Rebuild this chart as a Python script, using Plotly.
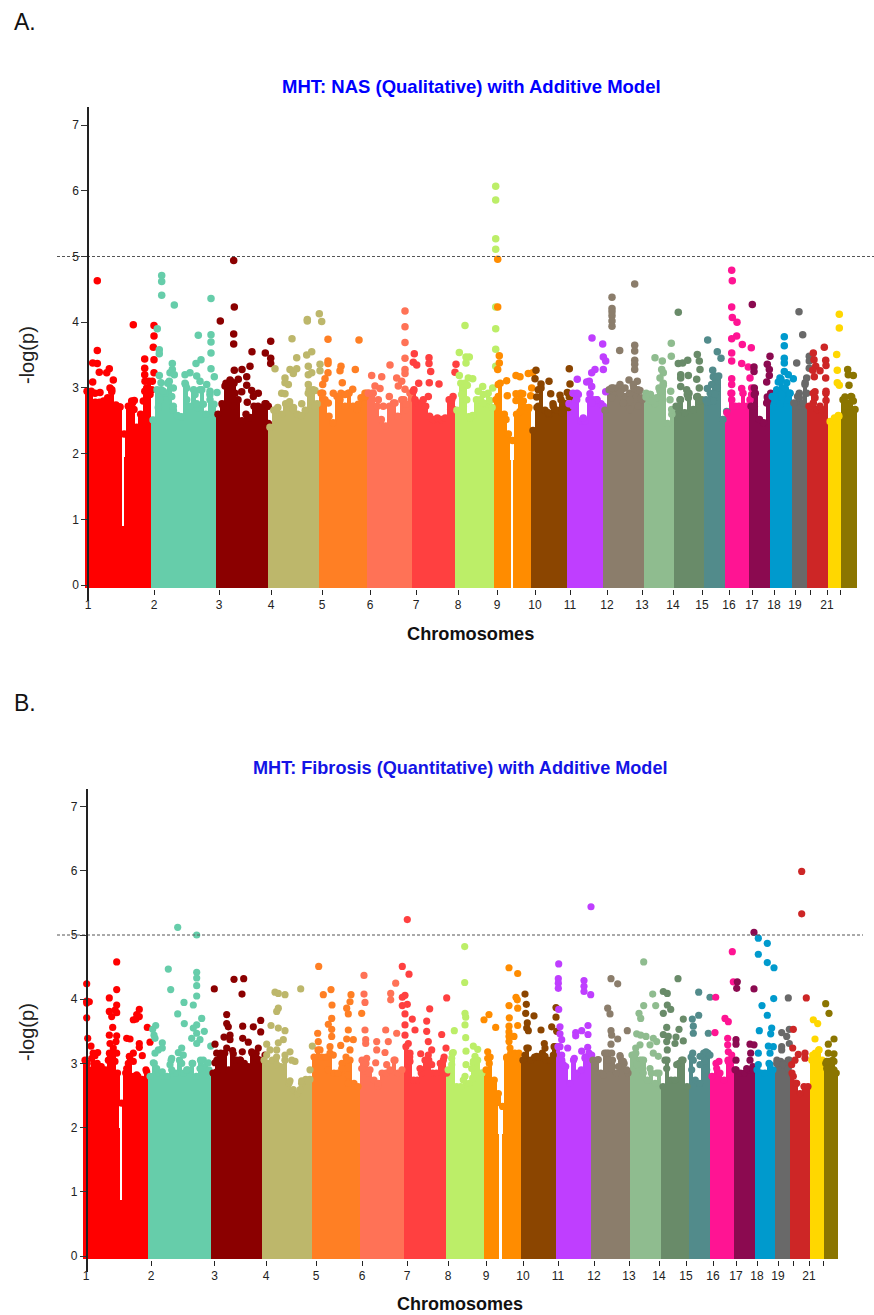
import plotly.graph_objects as go

chrom_colors = ["#FF0000","#66CDAA","#8B0000","#BDB76B","#FF7F24","#FF7256","#FF4040","#BCEE68","#FF8C00","#8B4500","#BF3EFF",
                "#8B7D6B","#8FBC8F","#698B69","#528B8B","#FF1493","#8B0A50","#009ACD","#696969","#CD2626","#FFD700","#8B7500"]
tick_text = ["1","2","3","4","5","6","7","8","9","10","11","12","13","14","15","16","17","18","19","","21",""]
y_ticks = [0,1,2,3,4,5,6,7]
threshold = 5

# ---------- Panel A: genome positions ----------
a_bounds = [85,151,216,268,319,367,412,455,494,531,567,603,644,674,704,725,749,770,792,807,828,841,857]
a_ticks = [88,154,219,271,322,370,416,458,497,535,570,607,642,673,702,729,752,774,795,810,827,840]
# height of the connected mass of points along each chromosome
a_body = [
 [2.95,2.95,2.78,2.78,2.8,2.85,2.97,2.74,2.71,2.3,2.72,2.77,2.4,2.6,2.95,3.1],
 [2.51,2.97,2.97,2.92,3.1,2.66,2.58,2.56,3.05,2.72,2.97,2.7,2.97,2.6,2.9,2.75],
 [2.6,2.76,3.07,3.12,3.07,2.82,2.5,2.6,2.55,2.72,2.72,2.7,2.76],
 [2.4,2.66,2.7,2.6,2.76,2.79,2.7,2.6,2.58,2.66,2.97,2.97,2.76],
 [2.92,2.82,2.57,2.47,2.87,2.92,2.72,2.92,2.72,2.67,2.85,2.92],
 [2.92,2.92,2.72,2.52,2.42,2.72,2.77,2.57,2.82,2.67,2.92],
 [2.97,2.77,2.77,2.72,2.57,2.52,2.54,2.52,2.54,2.82,2.87],
 [2.66,3.07,3.07,2.56,2.58,2.82,2.82,2.76,2.92,2.7],
 [2.82,3.07,2.6,2.3,2.2,2.6,2.92,2.7,2.7],
 [2.35,2.7,3.0,2.66,2.6,2.76,2.66,2.82,2.76],
 [2.76,2.92,2.92,2.5,2.5,2.82,2.82,2.82,2.76],
 [2.66,2.97,3.0,3.0,2.97,2.87,2.92,3.0,2.97,2.82],
 [2.92,2.9,2.76,3.0,3.07,2.46,2.6],
 [2.72,2.82,2.62,2.92,2.67,2.87,2.82],
 [2.82,2.92,3.18,3.18,2.52],
 [2.62,2.92,2.72,2.72,2.92,2.72],
 [2.72,2.92,2.52,2.47,2.82],
 [2.87,2.92,3.13,2.97,2.92],
 [2.77,2.87,2.72,3.08],
 [2.72,2.92,2.67,2.67,2.92],
 [2.49,2.54,2.57],
 [2.82,2.77,2.87,2.67],
]
# narrow unfilled stretches: position, lower value, upper value, span
a_seams = [(123.5,0.9,2.3,1.2),(123.5,1.95,2.3,3),(511.5,-0.1,2.2,2),(511.5,1.9,2.2,4)]
a01 = [(97.3,4.63),(97.3,3.57),(92.7,3.38),(97.3,3.37),(99.3,3.24),(106.7,3.23),(109.3,3.29),(113.3,3.12),(92.7,3.09),(110,3.0),(89,2.86),(100,2.93),(111.7,2.94),(95,2.92),(119.3,2.71),(115,2.67),(89.3,2.49),(89.3,2.31),
       (133.3,3.96),(154,3.95),(154,3.79),(153.3,3.62),(154,3.43),(144.7,3.44),(154,3.23),(144.7,3.3),(144.7,3.2),(145,3.1),(152.3,3.1),(146.7,3.0),(151.7,2.97),(143.3,2.8),(131.7,2.8),(134.3,2.81),(134,2.67),(130,2.62),(150,2.9)]
a02 = [(161.7,4.71),(161.7,4.62),(161.7,4.41),(174.3,4.26),(211,4.36),(157.3,3.9),(198.3,3.8),(211,3.81),(211,3.7),(159.3,3.58),(159.3,3.52),(211,3.53),(201,3.43),(196,3.37),(172.3,3.37),(172.3,3.28),(211,3.29),(214.3,3.17),(159.3,3.19),(170,3.23),(174.3,3.2),(190,3.23),(185,3.2),(196.7,3.18),(200,3.1),(161,3.08),(167.7,3.07),(185,3.07),(206.7,3.05),(163.3,2.95),(173.3,3.0),(186.7,3.0),(200,2.97),(210,2.95),(217,2.93),(195,2.9),(171.7,2.87),(160,2.82),(186.7,2.82),(196.7,2.76),(203.3,2.75),(173.3,2.72),(158.3,2.7),(210,2.82)]
a03 = [(233.7,4.94),(234.3,4.23),(220.3,4.02),(233.7,3.82),(233.7,3.67),(270.7,3.71),(252,3.55),(265.3,3.53),(270.7,3.45),(270.7,3.37),(250,3.33),(234.3,3.27),(242,3.28),(246.7,3.17),(238.3,3.13),(231.7,3.09),(225,3.03),(246.7,3.04),(251.7,2.96),(241.7,2.94),(258.3,2.92),(235,2.92),(253.3,2.87),(247.3,2.78),(233.3,2.82),(265,2.76),(268.3,2.72),(233.3,2.72),(223.3,2.72),(256,2.7),(268.3,2.46)]
a04 = [(319.3,4.13),(321.7,4.01),(307.3,4.04),(307.3,4.02),(292,3.75),(311.7,3.55),(306.7,3.5),(296.7,3.46),(320,3.36),(308.3,3.33),(275,3.29),(290,3.28),(296.7,3.29),(320,3.26),(308.3,3.2),(293.3,3.22),(311.7,3.23),(285,3.15),(308.3,3.05),(288.3,3.05),(285,3.08),(315,2.96),(281.7,2.92),(285,2.91),(308.3,2.92),(321.7,2.92),(289.3,2.77),(301.7,2.76),(276.7,2.67),(315,2.72),(293.3,2.67)]
a05 = [(328,3.74),(359,3.73),(328,3.41),(328,3.37),(341,3.33),(340,3.26),(355.3,3.28),(328,3.23),(325,3.14),(342.3,3.08),(322.7,3.05),(352.7,2.98),(348.3,2.92),(333.3,2.92),(322.7,2.92),(366.7,2.92),(345,2.9),(340,2.82),(328.3,2.77),(365,2.86),(358.3,2.75)]
a06 = [(405,4.17),(405,3.93),(405,3.69),(390,3.35),(405,3.45),(405,3.28),(405,3.22),(381.7,3.17),(371.7,3.19),(396.7,3.15),(401.7,3.1),(375,3.03),(380,2.99),(398.3,3.03),(405,2.98),(368.3,2.92),(372.7,2.92),(389.3,2.87),(404,2.82),(395,2.77),(406,2.75),(383.3,2.72),(378.3,2.82)]
a07 = [(414.3,3.52),(413.3,3.39),(416.7,3.35),(429,3.46),(429,3.37),(430.7,3.25),(418.7,3.07),(429.3,3.08),(439,3.06),(413.3,2.95),(428.3,2.87),(423.3,2.82),(415,2.82),(450.7,2.82),(450.7,2.67),(456,3.36),(455,3.24),(451.7,2.82),(453.3,2.67)]
a08 = [(495.7,6.07),(495.7,5.86),(495.7,5.27),(495.7,5.11),(495.7,4.23),(495.7,3.9),(495.7,3.59),(495.7,3.33),(465,3.95),(459.3,3.54),(469.3,3.47),(466,3.47),(466,3.38),(459.3,3.19),(468.3,3.15),(472.7,3.14),(482.7,3.02),(492.7,3.0),(463.3,3.0),(467.3,3.04),(478.3,2.95),(483.3,2.9),(461.7,2.9),(466.7,2.82),(490,2.81),(483.3,2.77),(463.3,2.72),(470,2.54)]
a09 = [(497.7,4.96),(497.7,4.23),(499.3,3.49),(499.3,3.38),(497.7,3.28),(506.7,3.11),(498.3,3.05),(507.3,2.88),(498.3,2.87),(516,3.19),(520,3.17),(528.3,3.22),(532.7,3.23),(531.7,3.0),(516,2.91),(522.7,2.91),(516,2.81),(523.3,2.8),(530.7,2.88),(528.3,2.68),(520,2.64),(506,2.52)]
a10 = [(536,3.27),(569.3,3.29),(535,3.14),(549,3.1),(541,3.06),(570,3.06),(538.3,2.97),(550.7,2.91),(560,2.89),(567.3,2.93),(536.7,2.86),(569.3,2.86),(563.3,2.77),(553.3,2.72),(538.3,2.72),(548.3,2.62),(568.3,2.7),(561.7,2.62)]
a11 = [(592,3.76),(602.7,3.67),(577.3,3.13),(603.3,3.47),(605.7,3.41),(603.3,3.28),(595,3.28),(591.7,3.23),(589.3,3.1),(586.7,3.09),(591.7,3.02),(590,2.91),(578.3,2.9),(605.7,2.94),(576.7,2.82),(596.7,2.82),(591.7,2.77),(573.3,2.72),(603.3,2.72),(583.3,2.54)]
a12 = [(634.7,4.58),(612,4.38),(612,4.21),(612,4.16),(612,4.1),(612,4.02),(612,3.94),(634.7,3.65),(634.7,3.56),(619.7,3.57),(634.7,3.42),(634.7,3.36),(634.7,3.28),(629,3.12),(637.3,3.1),(620,3.05),(611.7,3.0),(625,3.0),(633.3,3.05),(640,2.96),(620,2.92),(611.7,2.85),(641,2.85),(630,2.82),(623.3,2.77),(638.3,2.72),(630,2.67)]
a13 = [(671.3,3.68),(655,3.46),(671.3,3.48),(662.3,3.41),(661.7,3.28),(663.3,3.23),(660,3.15),(663.3,3.04),(660,2.95),(670.7,2.95),(650,2.9),(656.7,2.85),(646,2.86),(670,2.82),(651.7,2.8),(671.7,2.67)]
a14 = [(678.3,4.15),(678.3,3.37),(682.7,3.38),(687.7,3.42),(697.3,3.51),(699.3,3.41),(700,3.28),(680.7,3.2),(688.3,3.19),(680.7,3.15),(696.7,3.13),(680.7,3.02),(699.3,3.0),(686.7,2.97),(687.3,2.9),(688.3,2.85),(696.7,2.86),(680,2.82),(699.3,2.8)]
a15 = [(707.7,3.73),(717.3,3.55),(721,3.45),(712.7,3.27),(713.3,3.17),(717.3,3.17),(711.7,3.05),(707.3,2.99),(717.3,3.0),(715,2.9),(713.3,2.8),(707.3,2.78),(726.7,2.64)]
a16 = [(731.7,4.79),(732.3,4.63),(731.7,4.23),(732.3,4.07),(737,4.0),(736.7,3.79),(731.7,3.75),(742.3,3.66),(751.3,3.61),(731.7,3.53),(731.7,3.41),(741.7,3.37),(748.3,3.32),(731.7,3.14),(750,3.15),(731.7,3.05),(741.7,2.99),(751.7,3.0),(731.7,2.92),(751.7,2.9),(731.7,2.82),(743.3,2.72),(750,2.82),(733.3,2.72)]
a17 = [(752.3,4.27),(754,3.32),(754,3.25),(770,3.48),(767.3,3.36),(769.3,3.28),(769.3,3.19),(766.7,3.09),(754.3,3.0),(754.3,2.9),(770.7,2.92),(767.3,2.86),(766.7,2.77),(754.3,2.72)]
a18 = [(784.3,3.78),(784.3,3.64),(784.3,3.45),(784.3,3.38),(784.3,3.25),(788.3,3.2),(780,3.15),(793.3,3.14),(786.7,3.08),(778.3,3.09),(776.7,2.97),(785,3.0),(790,2.92),(781.7,2.9),(775,2.82),(788.3,2.82),(780,2.75)]
a19 = [(799,4.16),(802.7,3.81),(796.7,3.38),(809.3,3.48),(809.3,3.41),(809.3,3.3),(806.7,3.15),(805,3.05),(799.3,2.92),(799.3,2.85),(806.7,2.92),(803.3,2.77)]
a20 = [(824.3,3.62),(813.3,3.53),(814,3.43),(825.7,3.42),(815.7,3.33),(826,3.34),(812.7,3.27),(820,3.26),(814.3,3.17),(825.7,3.15),(815,2.94),(826,2.95),(815,2.85),(826,2.81),(820,2.72),(813.3,2.77)]
a21 = [(839.3,4.12),(839.3,3.91),(836.7,3.51),(837.3,3.27),(837.3,3.08),(839.3,3.04),(838.3,2.58)]
a22 = [(847.7,3.28),(848.3,3.2),(853.3,3.19),(849,3.04),(845,2.86),(851.7,2.86),(853.3,2.8),(845,2.72),(850,2.62)]

# ---------- Panel B ----------
b_bounds = [83,148,211,262,312,360,404,446,484,521,556,591,630,661,689,710,734,755,775,790,810,824,838]
b_ticks = [86,151,214.5,266,316,362,407,448,486,523,558,594,629,659,686,713,736,757,778,793,809,823]
b_body = [
 [3.05,2.9,3.16,3.0,2.95,2.9,3.16,3.16,2.85,2.38,2.85,3.1,2.8,2.8,2.75,2.9],
 [2.8,3.0,2.85,2.8,2.8,3.05,2.85,3.05,2.85,2.9,3.0,2.8,3.05,2.95,2.9],
 [2.85,3.05,3.16,3.16,2.9,3.2,3.05,3.05,3.0,2.95,3.16,3.16,3.05],
 [3.05,3.0,3.05,3.1,2.95,3.05,2.69,2.59,2.53,2.69,2.75,2.75],
 [3.1,3.21,3.1,3.1,3.16,2.85,2.85,3.0,3.1,3.05,2.69,2.64],
 [3.05,3.0,2.9,2.74,2.64,2.85,2.85,2.9,3.05,2.85,2.9],
 [3.26,3.1,2.74,2.74,2.85,3.05,3.05,2.85,2.85,3.0,3.1],
 [2.9,3.16,2.64,2.64,2.8,2.69,3.0,3.05,2.85],
 [2.9,3.1,2.74,2.53,2.33,3.1,3.16,3.16,3.16],
 [3.05,3.24,3.05,3.1,3.1,3.16,3.05,3.05,3.26],
 [3.26,3.05,2.95,2.69,3.05,2.85,2.9,3.1,3.16],
 [3.05,3.05,2.85,3.16,3.16,3.05,2.85,3.1,3.0,2.85],
 [3.13,3.16,3.05,3.05,2.74,2.85,2.69,2.85],
 [2.64,3.05,2.74,2.74,3.0,3.05,2.64],
 [3.1,2.74,2.69,3.16,3.16],
 [2.8,3.0,2.85,2.74,3.05,3.05],
 [2.9,2.85,2.85,2.9,2.95],
 [2.9,2.85,2.85,3.0,2.9],
 [3.05,3.03,3.0,3.05],
 [2.85,2.69,2.53,2.64,2.64],
 [3.05,3.16,3.21,3.05],
 [3.0,3.03,3.05,2.85],
]
b_seams = [(120.7,0.87,2.38,1.2),(120.7,2.0,2.38,3),(500.5,-0.1,2.33,3.5),(500.5,1.9,2.33,5)]
b01 = [(86.7,4.24),(86.7,3.97),(89.3,3.96),(86.7,3.94),(86.7,3.71),(87.7,3.39),(91,3.27),(97.7,3.17),(95,3.12),(87.3,3.0),(91.7,3.08),(86.7,2.92),(116.7,4.58),(116.7,4.15),(109.3,4.02),(116.7,3.91),(109.3,3.81),(115,3.83),(111.7,3.73),(116.7,3.79),(112.7,3.56),(109.3,3.44),(116.7,3.43),(116,3.34),(110,3.31),(113.3,3.24),(116.7,3.16),(115,3.03),(108.3,3.05),(100,2.95),(95,2.87),(110,2.92),
       (139.3,3.84),(136.7,3.76),(139.3,3.73),(133.3,3.68),(136,3.69),(147.3,3.56),(126.7,3.39),(130,3.38),(139.3,3.31),(150,3.33),(139.3,3.25),(133.3,3.16),(142.3,3.12),(129.3,3.11),(128.3,3.0),(133.3,3.03),(146.7,2.87),(126.7,2.92),(136.7,2.82)]
b02 = [(177.7,5.12),(196.7,5.0),(168.3,4.47),(196.7,4.42),(196.7,4.33),(196.7,4.21),(170.7,4.15),(196.7,4.05),(184,3.95),(193.3,3.91),(177.7,3.77),(201.7,3.7),(184.3,3.62),(196.7,3.6),(155.7,3.59),(193.3,3.55),(204.3,3.5),(152.7,3.53),(154,3.44),(196.7,3.47),(155,3.39),(191.7,3.39),(200,3.37),(162.3,3.32),(196.7,3.31),(181.7,3.24),(210.7,3.27),(158.3,3.21),(162.3,3.24),(155,3.16),(178.3,3.17),(183.3,3.13),(171.7,3.08),(203.3,3.05),(153.3,3.01),(192.7,3.0),(181.7,3.0),(170,2.98),(208.3,3.01),(156.7,2.92),(162.3,2.87),(171.7,2.9),(200,2.92),(186.7,2.9)]
b03 = [(214.3,4.16),(234,4.31),(243.7,4.32),(242,4.08),(226.7,3.76),(226.7,3.62),(228.3,3.57),(260.7,3.67),(242.7,3.58),(253.3,3.57),(260.7,3.49),(230,3.44),(224,3.41),(242.7,3.39),(230,3.37),(248.3,3.33),(215,3.3),(226.7,3.24),(258.3,3.24),(251.7,3.18),(242.3,3.18),(216.7,3.16),(265,3.13),(233.3,3.15),(220,3.08),(240,3.05),(256.7,3.08),(215,3.01),(216.7,2.87)]
b04 = [(275,4.11),(278.3,4.09),(285,4.07),(300.7,4.16),(278.3,3.86),(276.7,3.81),(271,3.59),(278.3,3.55),(285,3.51),(283.3,3.37),(278.3,3.32),(266.7,3.3),(276.7,3.21),(290,3.18),(270,3.21),(266.7,3.13),(285,3.13),(295,3.03),(291.7,3.05),(276.7,2.98),(310,2.9),(312.3,3.27),(290,2.73),(301.7,2.73),(308.3,2.72),(300,2.59)]
b05 = [(318.7,4.51),(331,4.15),(323.3,4.07),(351,4.07),(350,3.96),(332,3.91),(346.7,3.86),(348.3,3.77),(361.7,3.78),(331.7,3.7),(328.3,3.61),(331.7,3.53),(348.3,3.52),(317.7,3.47),(331.7,3.42),(346.7,3.38),(318.3,3.34),(353.3,3.37),(340.7,3.28),(330,3.26),(350,3.21),(320,3.21),(333.3,3.13),(346.7,3.05),(328.3,2.9),(341.7,2.92),(348.3,2.82),(348.3,2.69)]
b06 = [(364,4.37),(395.7,4.25),(364,4.08),(390.7,4.09),(390.7,3.99),(365,3.95),(365,3.52),(385.7,3.52),(396.7,3.47),(365.7,3.37),(376.7,3.34),(388.3,3.34),(365.7,3.31),(376.7,3.21),(385,3.17),(366.7,3.08),(395,3.05),(375.7,3.01),(386.7,2.98),(361.7,2.92),(378.3,2.69),(368.3,2.85)]
b07 = [(407.3,5.24),(402.3,4.51),(409,4.39),(405,4.06),(402.3,4.03),(407.3,3.92),(402.3,3.9),(405,3.77),(412.3,3.69),(426.7,3.66),(429.7,3.85),(446.7,4.02),(405,3.6),(415,3.52),(426.7,3.5),(441.7,3.45),(405,3.44),(428.3,3.34),(408.3,3.31),(446,3.24),(410,3.16),(431.7,3.21),(420.7,3.15),(428.3,3.13),(410,3.03),(443.3,3.05),(431.7,2.98),(446.7,2.85),(420,2.92)]
b08 = [(464.7,4.82),(464.7,4.26),(465,3.78),(465.7,3.72),(465,3.6),(454.3,3.51),(465.7,3.4),(473.3,3.27),(477.7,3.22),(466,3.19),(453.3,3.17),(451.7,3.08),(475,3.11),(473.3,3.03),(451.7,2.98),(466,2.98),(471.7,2.92),(481.7,2.85),(463.3,2.74),(450,2.73),(472.7,2.77)]
b09 = [(484,3.68),(489,3.76),(495.7,3.56),(487.7,3.18),(487.7,3.08),(489.3,3.0),(509,4.49),(517.7,4.4),(516,4.03),(517.3,3.99),(509,3.9),(517.7,3.86),(509.3,3.71),(517.7,3.59),(509,3.58),(509,3.49),(509,3.42),(514,3.42),(509,3.34),(510,3.24),(518.3,3.13),(506.7,3.08)]
b10 = [(525,4.08),(526.3,3.92),(525.7,3.78),(534,3.74),(527.3,3.63),(526.7,3.55),(528.3,3.51),(556,3.87),(556,3.72),(541,3.52),(551.7,3.57),(556.7,3.5),(544.3,3.31),(528.3,3.24),(545,3.24),(555,3.26),(525,3.13),(536.7,3.11),(545,3.11),(553.3,3.13)]
b11 = [(558.7,4.55),(558.3,4.32),(558.3,4.25),(558.3,4.17),(558.7,3.84),(560,3.57),(560,3.46),(575.7,3.48),(575.7,3.43),(581.7,3.51),(588,3.59),(588,3.45),(591,5.44),(584,4.29),(584,4.2),(584,4.12),(590.7,4.07),(561.7,3.37),(560,3.26),(567.7,3.24),(587.7,3.25),(581.7,3.19),(561.7,3.13),(591.7,3.13),(574.3,3.08),(585,3.08),(563.3,2.98),(575,2.82)]
b12 = [(611,4.32),(617.7,4.24),(607.7,3.86),(610,3.77),(627.3,3.51),(611,3.51),(611.7,3.44),(617.7,3.38),(611,3.3),(606.7,3.16),(611.7,3.16),(620,3.12),(598.3,3.06),(608.3,3.05),(623.3,3.03),(595,2.98),(611.7,2.92),(618.3,2.95),(626.7,2.9),(603.3,2.82)]
b13 = [(643.7,4.58),(652.7,4.08),(643.7,3.9),(655.7,3.9),(639,3.78),(640.7,3.7),(636.7,3.46),(640.7,3.44),(646,3.42),(653.3,3.39),(640,3.29),(656.7,3.34),(650,3.29),(635.7,3.24),(653.3,3.16),(633.3,3.13),(641.7,3.05),(658.3,3.11),(636.7,2.98),(650,2.92),(656.7,2.85),(643.3,2.85)]
b14 = [(678,4.32),(663.3,4.12),(667.3,4.09),(667.3,3.91),(670.7,3.84),(663.3,3.78),(683.3,3.69),(666.7,3.56),(679,3.53),(663.3,3.45),(668.3,3.42),(676,3.41),(683.3,3.35),(666.7,3.34),(675,3.31),(667.3,3.21),(665,3.05),(681.7,3.05),(676.7,2.98),(666.7,2.92)]
b15 = [(698.7,4.11),(710,4.03),(698.7,3.75),(692.3,3.69),(693.3,3.58),(693.3,3.47),(708.3,3.47),(692.7,3.16),(706,3.18),(693.3,3.05),(710,3.13),(700,3.11),(705,3.03),(700,2.98),(691.7,2.9),(706.7,2.9)]
b16 = [(732.3,4.74),(715.7,4.03),(733.3,4.27),(725,3.7),(728.3,3.65),(715,3.48),(727.7,3.39),(727.7,3.29),(728.3,3.18),(719,3.03),(731.7,3.13),(716.7,2.92),(728.3,3.03),(730,2.92)]
b17 = [(737.3,4.27),(736.7,4.17),(754,4.16),(754,5.04),(736,3.37),(736,3.3),(750,3.3),(754,3.29),(750.7,3.16),(736,3.05),(750,3.05),(746.7,2.92),(753.3,2.9),(735,2.9)]
b18 = [(758.3,4.95),(767.3,4.87),(758.3,4.7),(767.3,4.57),(774,4.49),(773.7,4.01),(762,3.9),(767.3,3.75),(759.3,3.51),(771.7,3.55),(770.7,3.46),(768.3,3.27),(773.3,3.26),(770,3.16),(758.3,3.16),(758.3,2.98),(770,2.98)]
b19 = [(788.3,4.02),(781.7,3.48),(789.3,3.53),(786.7,3.42),(789.3,3.31),(781.7,3.26),(781.7,3.21),(789.3,3.05),(776.7,3.0),(783.3,2.98),(788.3,2.92)]
b20 = [(801.7,5.99),(801.7,5.33),(806.3,4.02),(793.3,3.53),(792.7,3.24),(798.3,3.14),(805,3.16),(805,3.08),(791.7,2.98),(795,3.05),(793.3,2.8),(796.7,2.69)]
b21 = [(813.3,3.68),(817.7,3.62),(815,3.38),(819,3.21),(812.7,3.13),(816.7,3.05)]
b22 = [(825.7,3.93),(829,3.78),(834,3.38),(828.3,3.3),(828.3,3.16),(834,3.15),(826.7,3.03),(834,3.03),(826.7,2.92),(834,2.9)]

a_points = [a01,a02,a03,a04,a05,a06,a07,a08,a09,a10,a11,a12,a13,a14,a15,a16,a17,a18,a19,a20,a21,a22]
b_points = [b01,b02,b03,b04,b05,b06,b07,b08,b09,b10,b11,b12,b13,b14,b15,b16,b17,b18,b19,b20,b21,b22]

W, H = 874, 1315
fig = go.Figure()


def panel(xa, ya, bounds, body, points, seams, dot, line_end):
    for i, col in enumerate(chrom_colors):
        start, end = bounds[i], bounds[i + 1]
        step = (end - start) / len(body[i])
        cx = [start + step * (k + 0.5) for k in range(len(body[i]))]
        fig.add_trace(go.Bar(x=cx, y=[h + 0.05 for h in body[i]], base=-0.05, width=step + 0.4,
                             marker=dict(color=col, line=dict(width=0)), xaxis=xa, yaxis=ya, hoverinfo="skip"))
    fig.add_trace(go.Bar(x=[s[0] for s in seams], y=[s[2] - s[1] for s in seams], base=[s[1] for s in seams],
                         width=[s[3] for s in seams], marker=dict(color="white", line=dict(width=0)),
                         xaxis=xa, yaxis=ya, hoverinfo="skip"))
    for i, col in enumerate(chrom_colors):
        start, end = bounds[i], bounds[i + 1]
        step = (end - start) / len(body[i])
        tops = [(start + step * (k + 0.5), h) for k, h in enumerate(body[i])]
        pts = tops + points[i]
        fig.add_trace(go.Scatter(x=[p[0] for p in pts], y=[p[1] for p in pts], mode="markers",
                                 marker=dict(color=col, size=dot, line=dict(width=0)), xaxis=xa, yaxis=ya))
    fig.add_trace(go.Scatter(x=[57, line_end], y=[threshold, threshold], mode="lines",
                             line=dict(color="#555555", width=1, dash="3px,2px"), xaxis=xa, yaxis=ya))


panel("x", "y", a_bounds, a_body, a_points, a_seams, 7.5, 874)
panel("x2", "y2", b_bounds, b_body, b_points, b_seams, 7.2, 863)


def xaxis(ticks, ypx):
    return dict(domain=[0, 1], range=[0, W], anchor="free", position=1 - ypx / H, showgrid=False, zeroline=False,
                showline=False, tickmode="array", tickvals=ticks, ticktext=tick_text, ticks="outside", ticklen=5,
                tickwidth=1.2, tickcolor="#222222", tickangle=0,
                tickfont=dict(family="Liberation Sans", size=12, color="#222222"))


def yaxis(top_px, bot_px, zero_px, unit, x_px):
    return dict(domain=[1 - bot_px / H, 1 - top_px / H], range=[(zero_px - bot_px) / unit, (zero_px - top_px) / unit],
                anchor="free", position=x_px / W, showgrid=False, zeroline=False, showline=True, linecolor="#222222",
                linewidth=1.5, tickmode="array", tickvals=y_ticks, ticks="outside", ticklen=6, tickwidth=1.2,
                tickcolor="#333333", tickfont=dict(family="Liberation Sans", size=12, color="#222222"))


def label(text, x, y, size, color="#111111", bold=False, angle=0):
    return dict(text=f"<b>{text}</b>" if bold else text, xref="paper", yref="paper", x=x / W, y=1 - y / H,
                xanchor="center", yanchor="middle", showarrow=False, textangle=angle,
                font=dict(family="Liberation Sans", size=size, color=color))


fig.update_layout(
    width=W, height=H, margin=dict(l=0, r=0, t=0, b=0), paper_bgcolor="white", plot_bgcolor="rgba(0,0,0,0)",
    showlegend=False, barmode="overlay", bargap=0,
    xaxis=xaxis(a_ticks, 589), yaxis=yaxis(107, 601, 585, 65.7, 88),
    xaxis2=xaxis(b_ticks, 1260), yaxis2=yaxis(789, 1272, 1256, 64.2, 86.7),
    annotations=[
        label("A.", 25, 22, 23), label("B.", 25, 703, 23),
        label("MHT: NAS (Qualitative) with Additive Model", 471, 86, 18.5, "#0000FF", True),
        label("MHT: Fibrosis (Quantitative) with Additive Model", 460, 768, 18.1, "#1414E6", True),
        label("-log(p)", 27, 355, 20, "#222222", False, -90),
        label("-log(p)", 27, 1032, 20, "#222222", False, -90),
        label("Chromosomes", 470.5, 634, 18.2, "#111111", True),
        label("Chromosomes", 460, 1304, 18, "#111111", True),
    ],
)

fig.write_html("out.html", config={"displayModeBar": False},
               post_script="document.body.style.margin='0';document.body.style.overflow='hidden';")
